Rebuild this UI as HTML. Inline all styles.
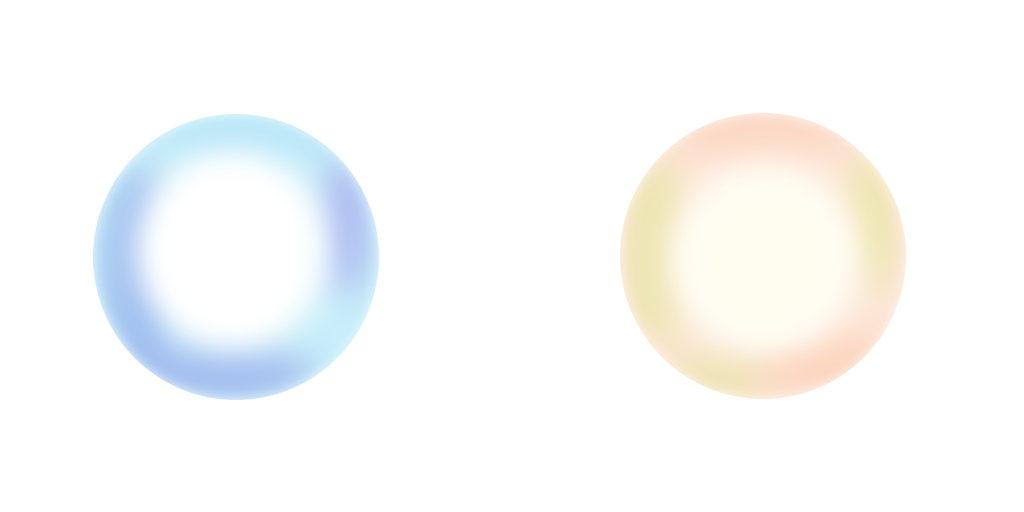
<!DOCTYPE html>
<html><head><meta charset="utf-8"><style>
html,body{margin:0;padding:0;background:#fff;width:1024px;height:512px;overflow:hidden}
</style></head><body>
<svg width="1024" height="512" viewBox="0 0 1024 512" xmlns="http://www.w3.org/2000/svg">
<defs>
<filter id="b1" x="-50%" y="-50%" width="200%" height="200%"><feGaussianBlur stdDeviation="16"/></filter>
<filter id="b2" x="-50%" y="-50%" width="200%" height="200%"><feGaussianBlur stdDeviation="18"/></filter>
<filter id="b3" x="-50%" y="-50%" width="200%" height="200%"><feGaussianBlur stdDeviation="6"/></filter>
<clipPath id="c1"><circle cx="236" cy="257" r="143"/></clipPath>
<clipPath id="c2"><circle cx="763" cy="256" r="143"/></clipPath>
</defs>
<g clip-path="url(#c1)">
<circle cx="236" cy="257" r="143" fill="#c8eef9"/>
<g filter="url(#b2)">
<ellipse cx="140" cy="270" rx="40" ry="100" fill="#9ebdee"/>
<ellipse cx="215" cy="375" rx="100" ry="30" fill="#a2bcee"/>
<ellipse cx="345" cy="225" rx="25" ry="70" fill="#acb8f0"/>
<ellipse cx="250" cy="135" rx="100" ry="25" fill="#b8e6f8"/>
</g>
<circle cx="236" cy="257" r="150" fill="none" stroke="#eaf8ff" stroke-width="14" filter="url(#b3)"/>
<ellipse cx="232" cy="250" rx="95" ry="98" fill="#fff" filter="url(#b1)"/>
<ellipse cx="232" cy="250" rx="70" ry="72" fill="#fff" filter="url(#b1)"/>
</g>
<g clip-path="url(#c2)">
<circle cx="763" cy="256" r="143" fill="#fde6d8"/>
<g filter="url(#b2)">
<ellipse cx="655" cy="250" rx="35" ry="95" fill="#ece5b0"/>
<ellipse cx="872" cy="220" rx="25" ry="70" fill="#ebe6ac"/>
<ellipse cx="760" cy="130" rx="100" ry="25" fill="#fcd6c2"/>
<ellipse cx="830" cy="365" rx="80" ry="30" fill="#fcd4bd"/>
<ellipse cx="715" cy="380" rx="50" ry="25" fill="#ece4b0"/>
</g>
<circle cx="763" cy="256" r="150" fill="none" stroke="#fff4ec" stroke-width="14" filter="url(#b3)"/>
<ellipse cx="765" cy="258" rx="95" ry="95" fill="#fffdf4" filter="url(#b1)"/>
<ellipse cx="765" cy="262" rx="70" ry="70" fill="#fffdf0" filter="url(#b1)"/>
</g>
</svg>
</body></html>
